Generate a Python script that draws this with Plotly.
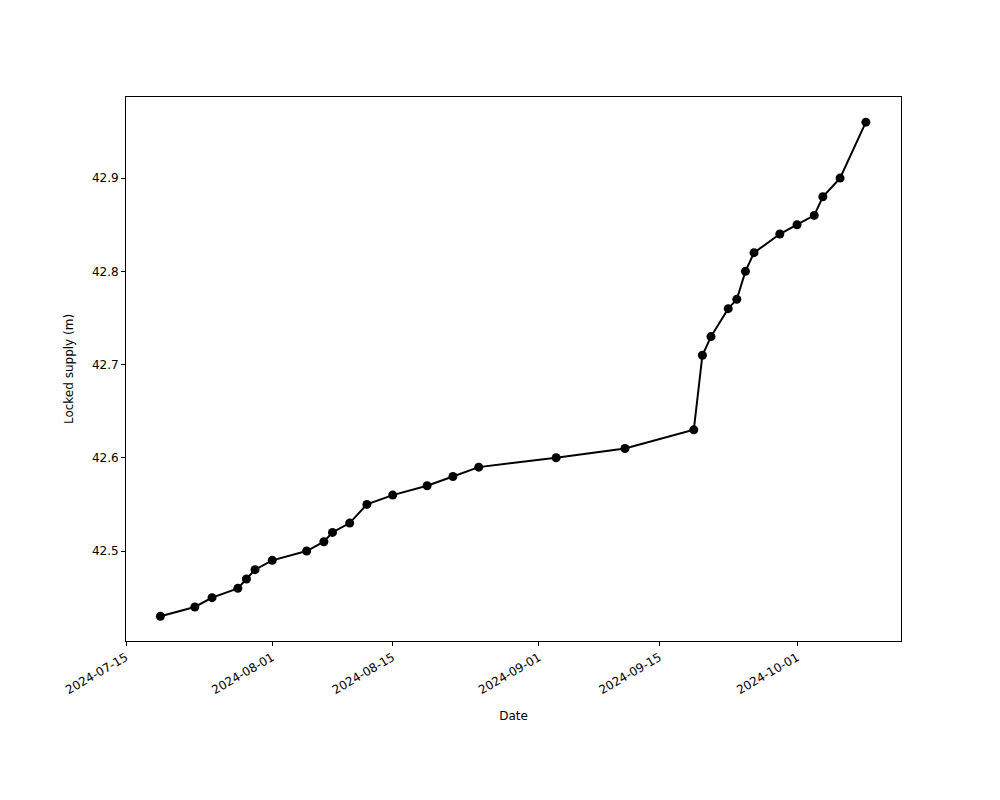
import plotly.graph_objects as go

dates = ["2024-07-19","2024-07-23","2024-07-25","2024-07-28","2024-07-29","2024-07-30",
         "2024-08-01","2024-08-05","2024-08-07","2024-08-08","2024-08-10","2024-08-12",
         "2024-08-15","2024-08-19","2024-08-22","2024-08-25","2024-09-03","2024-09-11",
         "2024-09-19","2024-09-20","2024-09-21","2024-09-23","2024-09-24","2024-09-25",
         "2024-09-26","2024-09-29","2024-10-01","2024-10-03","2024-10-04","2024-10-06",
         "2024-10-09"]
values = [42.43,42.44,42.45,42.46,42.47,42.48,42.49,42.50,42.51,42.52,42.53,42.55,
          42.56,42.57,42.58,42.59,42.60,42.61,42.63,42.71,42.73,42.76,42.77,42.80,
          42.82,42.84,42.85,42.86,42.88,42.90,42.96]
tickvals = ["2024-07-15","2024-08-01","2024-08-15","2024-09-01","2024-09-15","2024-10-01"]

fig = go.Figure(go.Scatter(x=dates, y=values, mode="lines+markers",
                           line=dict(color="black", width=2),
                           marker=dict(color="black", size=9)))
axis = dict(showgrid=False, zeroline=False, showline=True, mirror=True, linecolor="black",
            ticks="outside", tickcolor="black", ticklen=4)
fig.update_layout(
    width=1000, height=800, plot_bgcolor="white", paper_bgcolor="white",
    margin=dict(l=118, r=107, t=89, b=167), showlegend=False,
    font=dict(family="DejaVu Sans", size=12, color="black"),
    xaxis=dict(**axis, type="date", range=["2024-07-15", "2024-10-13 02:00"],
               tickvals=tickvals, ticktext=tickvals, tickangle=-30,
               title=dict(text="Date", font=dict(size=12))),
    yaxis=dict(**axis, range=[42.4035, 42.987], tickvals=[42.5, 42.6, 42.7, 42.8, 42.9],
               ticktext=["42.5", "42.6", "42.7", "42.8", "42.9"],
               title=dict(text="Locked supply (m)", font=dict(size=12))),
)
fig.write_html("out.html")
